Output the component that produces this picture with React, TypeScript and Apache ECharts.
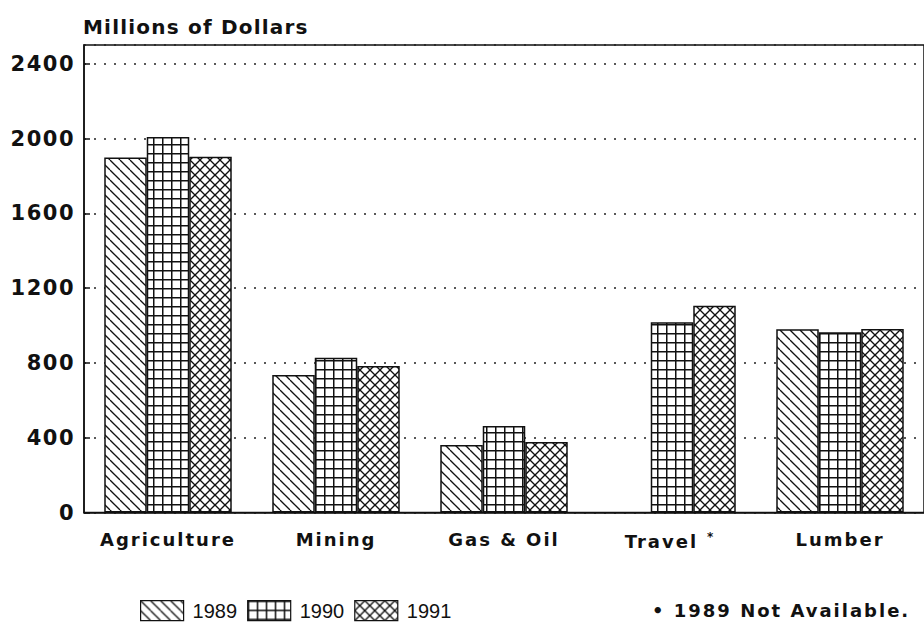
import React, { useEffect, useRef } from 'react';
import * as echarts from 'echarts';

const categories = ['Agriculture', 'Mining', 'Gas & Oil', 'Travel *', 'Lumber'];
const years = ['1989', '1990', '1991'];
const values1989 = [1898, 735, 361, null, 980];
const values1990 = [2008, 828, 463, 1017, 964];
const values1991 = [1902, 783, 377, 1106, 981];
const yMin = 0;
const yMax = 2500;
const yStep = 400;
const yAxisTitle = 'Millions of Dollars';
const footnote = '• 1989 Not Available.';

function makePattern(kind: string) {
  const s = kind === 'grid' ? 9 : 10;
  const c = document.createElement('canvas');
  c.width = s;
  c.height = s;
  const ctx = c.getContext('2d')!;
  ctx.fillStyle = '#ffffff';
  ctx.fillRect(0, 0, s, s);
  ctx.strokeStyle = '#111111';
  ctx.lineWidth = 1.3;
  if (kind === 'diag' || kind === 'cross') {
    for (let k = -1; k <= 1; k++) {
      ctx.beginPath();
      ctx.moveTo(k * s, 0);
      ctx.lineTo(k * s + s, s);
      ctx.stroke();
    }
  }
  if (kind === 'cross') {
    for (let k = -1; k <= 1; k++) {
      ctx.beginPath();
      ctx.moveTo(k * s + s, 0);
      ctx.lineTo(k * s, s);
      ctx.stroke();
    }
  }
  if (kind === 'grid') {
    ctx.lineWidth = 1.5;
    ctx.beginPath();
    ctx.moveTo(0.75, 0);
    ctx.lineTo(0.75, s);
    ctx.moveTo(0, 0.75);
    ctx.lineTo(s, 0.75);
    ctx.stroke();
  }
  return { image: c.toDataURL(), repeat: 'repeat', imageWidth: s, imageHeight: s } as any;
}

const boldFont = '"DejaVu Sans", sans-serif';

export default function App() {
  const ref = useRef<HTMLDivElement>(null);
  useEffect(() => {
    if (!ref.current) return;
    const chart = echarts.init(ref.current, undefined, { renderer: 'svg' });
    const patterns = [makePattern('diag'), makePattern('grid'), makePattern('cross')];
    const seriesValues = [values1989, values1990, values1991];
    chart.setOption({
      animation: false,
      backgroundColor: '#ffffff',
      title: {
        text: yAxisTitle,
        left: 83,
        top: 17,
        padding: 0,
        textStyle: { fontFamily: boldFont, fontWeight: 'bold', fontSize: 20, color: '#111' },
      },
      grid: {
        left: 84,
        top: 45,
        right: -6,
        bottom: 111.5,
        show: true,
        borderColor: '#111',
        borderWidth: 1.5,
        backgroundColor: 'transparent',
      },
      legend: {
        left: 140,
        top: 600,
        padding: 0,
        itemWidth: 43,
        itemHeight: 20,
        itemGap: 10,
        icon: 'rect',
        data: years,
        selectedMode: false,
        textStyle: { fontFamily: 'Liberation Sans', fontSize: 20, color: '#111', padding: [0, 0, 0, 4] },
        itemStyle: { borderColor: '#111', borderWidth: 1.2 },
      },
      xAxis: {
        type: 'category',
        data: categories,
        axisLine: { lineStyle: { color: '#111', width: 1.5 } },
        axisTick: { show: false },
        axisLabel: {
          margin: 18,
          interval: 0,
          fontFamily: boldFont,
          fontWeight: 'bold',
          fontSize: 18,
          color: '#111',
          formatter: (v: string) => (v.indexOf(' *') >= 0 ? v.replace(' *', '{s|*}') : v),
          rich: {
            s: {
              fontFamily: boldFont,
              fontWeight: 'bold',
              fontSize: 12,
              color: '#111',
              verticalAlign: 'top',
              padding: [0, 0, 10, 15],
            },
          },
        },
      },
      yAxis: {
        type: 'value',
        min: yMin,
        max: yMax,
        interval: yStep,
        axisLine: { show: true, lineStyle: { color: '#111', width: 1.5 } },
        axisTick: { show: true, inside: true, length: 6, lineStyle: { color: '#111', width: 1.5 } },
        axisLabel: {
          showMaxLabel: false,
          margin: 9,
          fontFamily: boldFont,
          fontWeight: 'bold',
          fontSize: 21,
          color: '#111',
          formatter: (v: number) => String(v),
        },
        splitLine: { show: true, lineStyle: { color: '#222', width: 1.5, type: [2, 8] } },
      },
      series: years.map((y, i) => ({
        name: y,
        type: 'bar',
        data: seriesValues[i],
        barWidth: 42.5,
        barGap: '0%',
        itemStyle: { color: patterns[i], borderColor: '#111', borderWidth: 1.5 },
      })),
      graphic: [
        {
          type: 'text',
          left: 652,
          top: 601,
          style: { text: footnote, font: 'bold 18px "DejaVu Sans"', fill: '#111' },
        },
      ],
    });
    return () => chart.dispose();
  }, []);
  return (
    <>
      <style>{`
        #chartbox text[style*="21px"] { letter-spacing: 1.5px; }
        #chartbox text[style*="20px"][style*="bold"] { letter-spacing: 1.2px; }
        #chartbox text[style*="18px"][style*="bold"] { letter-spacing: 2px; }
      `}</style>
      <div
        id="chartbox"
        ref={ref}
        style={{ position: 'fixed', left: 0, top: 0, width: 924, height: 624, background: '#fff' }}
      />
    </>
  );
}
